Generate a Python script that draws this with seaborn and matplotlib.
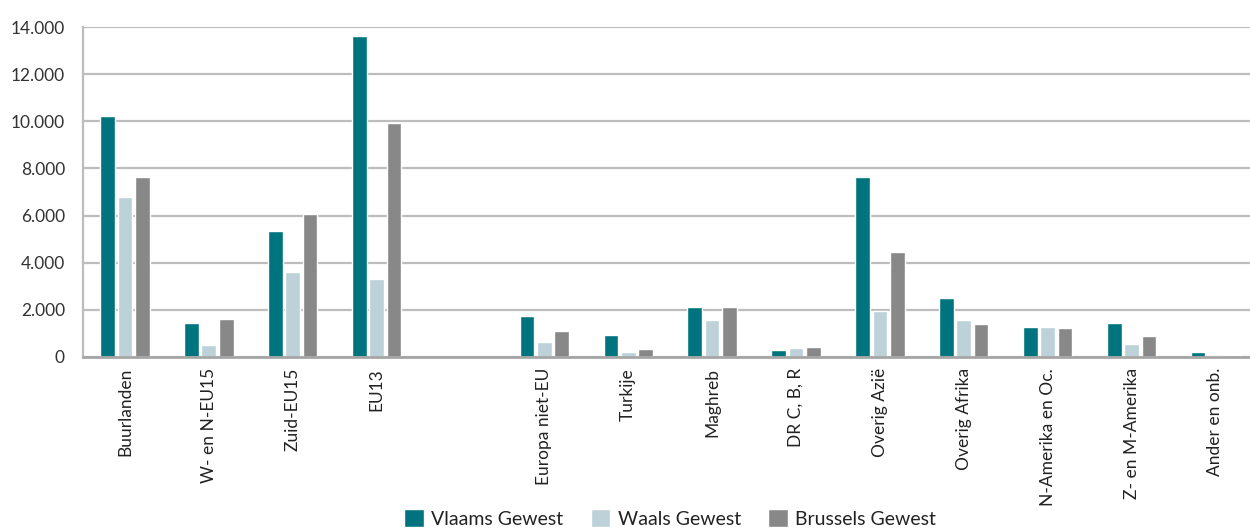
import pandas as pd
import numpy as np
import seaborn as sns
import matplotlib.pyplot as plt
from matplotlib.ticker import FuncFormatter, FixedLocator

# -------------------------------------------------
# Data
# -------------------------------------------------
regions = ['Buurlanden', 'W- en N-EU15', 'Zuid-EU15', 'EU13', ' ',
           'Europa niet-EU', 'Turkije', 'Maghreb', 'DR C, B, R', 'Overig Azië',
           'Overig Afrika', 'N-Amerika en Oc.', 'Z- en M-Amerika', 'Ander en onb.']
series = ['Vlaams Gewest', 'Waals Gewest', 'Brussels Gewest']

vlaams = [10220, 1450, 5350, 13610, np.nan, 1750, 945, 2130, 310, 7630, 2510, 1260, 1440, 210]
waals = [6790, 520, 3615, 3320, np.nan, 650, 226, 1580, 395, 1960, 1580, 1260, 550, 30]
brussels = [7640, 1620, 6070, 9925, np.nan, 1110, 352, 2130, 437, 4455, 1410, 1230, 890, 85]

colors = ['#00747E', '#BDD1D8', '#888888']

# -------------------------------------------------
# Build the long table
# -------------------------------------------------
df = pd.DataFrame({'Regio': regions, series[0]: vlaams,
                   series[1]: waals, series[2]: brussels})
df = df.melt(id_vars='Regio', var_name='Gewest', value_name='Aantal').dropna()

# -------------------------------------------------
# Plot
# -------------------------------------------------
sns.set_style('white')
plt.rcParams['font.family'] = ['Lato', 'DejaVu Sans']

fig = plt.figure(figsize=(12.5, 5.31), dpi=100)
ax = fig.add_axes([0.0664, 0.3277, 0.9395, 0.6213])

sns.barplot(data=df, x='Regio', y='Aantal', hue='Gewest', order=regions,
            hue_order=series, palette=colors, width=0.62, gap=0.15,
            saturation=1, ax=ax)

ax.set_ylim(0, 14000)
ax.set_xlim(-0.5, len(regions) - 0.5)
ax.set_yticks(range(0, 14001, 2000))
ax.yaxis.set_major_formatter(FuncFormatter(lambda v, p: f'{int(v):,}'.replace(',', '.')))
ax.yaxis.grid(True, color='#BDBDBD', linewidth=1.6)
ax.set_axisbelow(True)
ax.set_xlabel('')
ax.set_ylabel('')

for side in ['top', 'right']:
    ax.spines[side].set_visible(False)
ax.spines['left'].set_color('#BDBDBD')
ax.spines['left'].set_linewidth(1.6)
ax.spines['bottom'].set_color('#A6A6A6')
ax.spines['bottom'].set_linewidth(2)

ax.tick_params(axis='y', length=0, pad=13, labelsize=12.5, labelcolor='#333333')
ax.tick_params(axis='x', which='major', length=0, pad=8, labelsize=12.5,
               labelcolor='#222222', labelrotation=90)
ax.xaxis.set_minor_locator(FixedLocator(np.arange(-0.5, len(regions), 1)))
ax.tick_params(axis='x', which='minor', direction='in', length=9,
               width=1.2, color='#A6A6A6')
for lbl in ax.get_xticklabels():
    lbl.set_va('top')

sns.move_legend(ax, 'lower center', bbox_to_anchor=(0.5, -0.57), ncol=3,
                frameon=False, title=None, fontsize=14, handlelength=1.0,
                handleheight=1.0, columnspacing=1.4, handletextpad=0.4)
for t in ax.get_legend().get_texts():
    t.set_color('#222222')

fig.savefig('out.png', dpi=100)
